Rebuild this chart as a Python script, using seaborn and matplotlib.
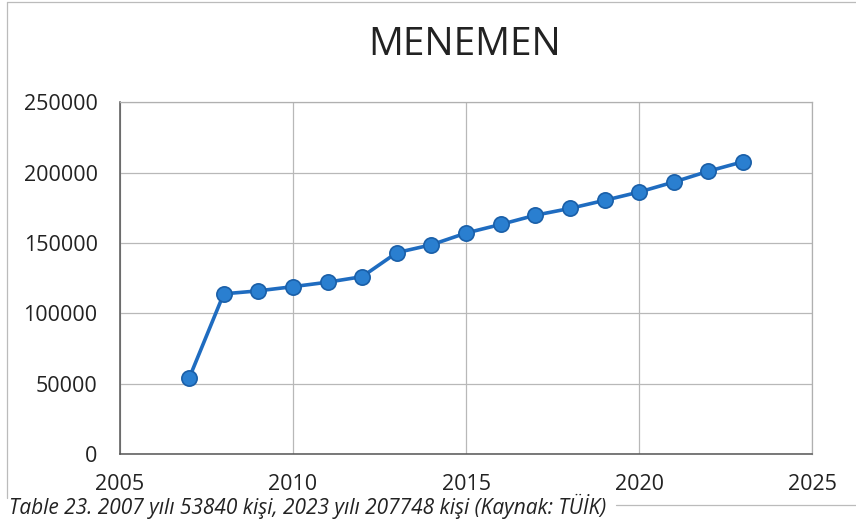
import pandas as pd
import numpy as np
import matplotlib
matplotlib.use('Agg')
import matplotlib.pyplot as plt
import seaborn as sns

years = [2007, 2008, 2009, 2010, 2011, 2012, 2013, 2014, 2015,
         2016, 2017, 2018, 2019, 2020, 2021, 2022, 2023]
population = [53840, 113868, 116004, 118976, 122152, 126093, 143159, 148735, 157073,
              163181, 169735, 174564, 180296, 186226, 193316, 201029, 207748]
x_ticks = [2005, 2010, 2015, 2020, 2025]
y_ticks = [0, 50000, 100000, 150000, 200000, 250000]
title = 'MENEMEN'
caption = 'Table 23. 2007 yılı 53840 kişi, 2023 yılı 207748 kişi (Kaynak: TÜİK)'

df = pd.DataFrame({'Yil': years, 'Nufus': population})

sns.set_theme(style='whitegrid')
plt.rcParams['font.family'] = ['Open Sans', 'DejaVu Sans']

fig = plt.figure(figsize=(8.56, 5.19), dpi=100)
ax = fig.add_axes([0.140, 0.125, 0.809, 0.678])

sns.lineplot(data=df, x='Yil', y='Nufus', ax=ax, color='#1f6cc0', linewidth=2.6,
             marker='o', markersize=11, markerfacecolor='#2a7fd0',
             markeredgecolor='#1a5fa8', markeredgewidth=1.2)

ax.set_xlim(2005, 2025)
ax.set_ylim(0, 250000)
ax.set_xticks(x_ticks)
ax.set_yticks(y_ticks)
ax.set_xlabel('')
ax.set_ylabel('')
ax.grid(True, color='#b8b8b8', linewidth=0.9)
ax.tick_params(axis='both', labelsize=15.5, colors='#222222', length=0)
ax.tick_params(axis='y', pad=16)
ax.tick_params(axis='x', pad=14)
for side in ['top', 'right']:
    ax.spines[side].set_color('#b0b0b0')
    ax.spines[side].set_linewidth(0.9)
for side in ['left', 'bottom']:
    ax.spines[side].set_color('#555555')
    ax.spines[side].set_linewidth(1.1)

fig.text(0.543, 0.913, title, ha='center', va='center', fontsize=28, color='#222222')

# outer chart frame (scanned page look)
fig.add_artist(plt.Line2D([0.008, 0.008], [0.04, 0.996], color='#bbbbbb', linewidth=0.9))
fig.add_artist(plt.Line2D([0.008, 1.0], [0.996, 0.996], color='#bbbbbb', linewidth=0.9))
fig.add_artist(plt.Line2D([0.72, 1.0], [0.027, 0.027], color='#bbbbbb', linewidth=0.9))

fig.text(0.010, 0.0, caption, ha='left', va='bottom', fontsize=15,
         style='italic', color='#222222')

plt.savefig('out.png', dpi=100)
plt.close()
